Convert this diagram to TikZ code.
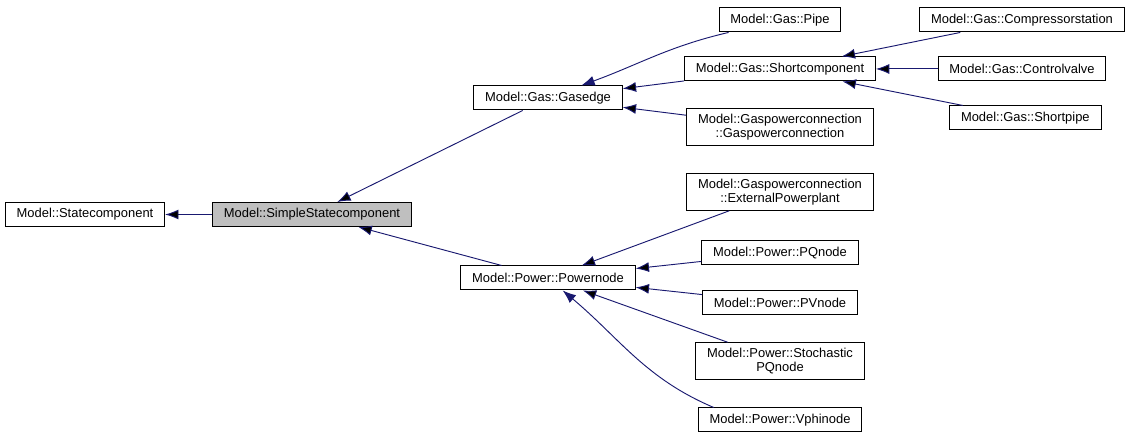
\documentclass[tikz,border=0pt]{standalone}
\usepackage{fontspec}
\setmainfont{Liberation Sans}
\usepackage{tikz}
\usetikzlibrary{arrows.meta,positioning}
\definecolor{edgecol}{RGB}{25,25,112}
\definecolor{curcol}{RGB}{191,191,191}
\tikzstyle{cls}=[draw, fill=white, align=center, line width=0.75pt, inner xsep=8.5pt, inner ysep=4pt, minimum height=18pt]
\tikzstyle{cur}=[cls, fill=curcol]
\tikzstyle{inh}=[->, draw=edgecol, line width=0.7pt]
\begin{document}
\begin{tikzpicture}[on grid,>={Latex[length=10pt,width=7.5pt]},font=\fontsize{9.7pt}{10.5pt}\selectfont]
		    \useasboundingbox (-63.75pt,-168.375pt) rectangle (788.25pt,160.875pt);
		    \node [cls] (state) {Model::Statecomponent};
		    \node [cur] (simple) [right=170.25pt of state] {Model::SimpleStatecomponent};
		    \node [cls] (gasedge) [above right=87.4pt and 177pt of simple] {Model::Gas::Gasedge};
		    \node [cls] (powernode) [below right=47.6pt and 177pt of simple] {Model::Power::Powernode};
		    \node [cls] (shortcomp) [above right=21.75pt and 174pt of gasedge] {Model::Gas::Shortcomponent};
		    \node [cls] (pipe) [above=36.75pt of shortcomp] {Model::Gas::Pipe};
		    \node [cls] (gpconn) [below=43.5pt of shortcomp] {Model::Gaspowerconnection\\::Gaspowerconnection};
		    \node [cls] (compressor) [above right=36.75pt and 181.5pt of shortcomp] {Model::Gas::Compressorstation};
		    \node [cls] (controlvalve) [right=181.5pt of shortcomp] {Model::Gas::Controlvalve};
		    \node [cls] (shortpipe) [below right=36.75pt and 184pt of shortcomp] {Model::Gas::Shortpipe};
		    \node [cls] (extpp) [above right=64.5pt and 174pt of powernode] {Model::Gaspowerconnection\\::ExternalPowerplant};
		    \node [cls] (pqnode) [above right=18.75pt and 174pt of powernode] {Model::Power::PQnode};
		    \node [cls] (pvnode) [below=37.5pt of pqnode] {Model::Power::PVnode};
		    \node [cls] (stoch) [below=43.5pt of pvnode] {Model::Power::Stochastic\\PQnode};
		    \node [cls] (vphi) [below=44.25pt of stoch] {Model::Power::Vphinode};
		    \path[inh]
		    (simple) edge (state)
		    (gasedge) edge (simple)
		    (powernode) edge (simple)
		    (shortcomp) edge (gasedge)
		    (gpconn) edge (gasedge)
		    (compressor) edge (shortcomp)
		    (controlvalve) edge (shortcomp)
		    (shortpipe) edge (shortcomp)
		    (extpp) edge (powernode)
		    (pqnode) edge (powernode)
		    (pvnode) edge (powernode)
		    (stoch) edge (powernode);
		    % curved ones
		    \draw[inh] ([xshift=7.5pt]pipe.south west) to[out=193,in=20] ([xshift=25pt]gasedge.north);
		    \draw[inh] ([xshift=12pt]vphi.north west) to[out=157,in=-40] ([xshift=11pt]powernode.south);
		\end{tikzpicture}
\end{document}
